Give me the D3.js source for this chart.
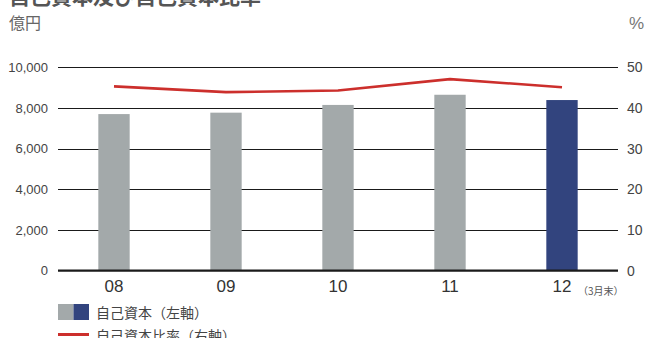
<!DOCTYPE html>
<html>
<head>
<meta charset="utf-8">
<script src="https://cdn.jsdelivr.net/npm/d3@7"></script>
<style>
  html, body { margin: 0; padding: 0; background: #fff; }
  svg { display: block; font-family: "Liberation Sans", Arial, "Noto Sans CJK JP", sans-serif; }
</style>
</head>
<body>
<svg id="chart" width="646" height="338"></svg>
<script>
// Fiscal years (end of March)
const years = ["08", "09", "10", "11", "12"];
// Shareholders' equity, 100 million yen (left axis)
const equity = [7700, 7770, 8150, 8650, 8390];
// Equity ratio, % (right axis)
const equityRatio = [45.3, 43.9, 44.3, 47.1, 45.1];
const leftTicks = [0, 2000, 4000, 6000, 8000, 10000];
const rightTicks = [0, 10, 20, 30, 40, 50];

const svg = d3.select("#chart");
const margin = { left: 58, right: 28, top: 67, bottom: 67 };
const W = 646, H = 338;
const x0 = margin.left, x1 = W - margin.right;
const yTop = 67.3, yBase = 270.7;

const x = d3.scaleBand().domain(years).range([x0, x1]).paddingInner(0.72).paddingOuter(0.36);
const yL = d3.scaleLinear().domain([0, 10000]).range([yBase, yTop]);
const yR = d3.scaleLinear().domain([0, 50]).range([yBase, yTop]);

const grey = "#a3a9aa", navy = "#32447e", red = "#cc2f2c";

// Title (partly clipped at the top) and unit labels
svg.append("text").attr("x", 9).attr("y", 4)
  .attr("font-family", "Noto Sans CJK JP").attr("font-weight", 700)
  .attr("font-size", 21).attr("fill", "#555")
  .text("自己資本及び自己資本比率");
svg.append("text").attr("x", 9).attr("y", 29)
  .attr("font-family", "Noto Sans CJK JP").attr("font-size", 16).attr("fill", "#666")
  .text("億円");
svg.append("text").attr("x", 629).attr("y", 29)
  .attr("font-size", 17).attr("fill", "#777")
  .text("%");

// Gridlines
const grid = svg.append("g");
grid.selectAll("line").data(leftTicks.filter(d => d > 0)).join("line")
  .attr("x1", x0).attr("x2", x1)
  .attr("y1", d => Math.round(yL(d)) + 0.5).attr("y2", d => Math.round(yL(d)) + 0.5)
  .attr("stroke", "#1a1a1a").attr("stroke-width", 1);

// Left axis labels
const leftAxis = d3.axisLeft(yL).tickValues(leftTicks).tickSize(0).tickPadding(10)
  .tickFormat(d3.format(","));
const gl = svg.append("g").attr("transform", `translate(${x0},0)`).call(leftAxis);
gl.select(".domain").remove();
gl.selectAll("text").attr("font-size", 13).attr("fill", "#444")
  .attr("font-family", "Liberation Sans, Arial, sans-serif");

// Right axis labels
const rightAxis = d3.axisRight(yR).tickValues(rightTicks).tickSize(0).tickPadding(9);
const gr = svg.append("g").attr("transform", `translate(${x1},0)`).call(rightAxis);
gr.select(".domain").remove();
gr.selectAll("text").attr("font-size", 14).attr("fill", "#444")
  .attr("font-family", "Liberation Sans, Arial, sans-serif");

// Bars: past years grey, latest year navy
svg.append("g").selectAll("rect").data(years).join("rect")
  .attr("x", d => x(d)).attr("width", x.bandwidth())
  .attr("y", (d, i) => yL(equity[i]))
  .attr("height", (d, i) => yBase - yL(equity[i]))
  .attr("fill", (d, i) => i === years.length - 1 ? navy : grey);

// Baseline
svg.append("line").attr("x1", x0).attr("x2", x1)
  .attr("y1", yBase).attr("y2", yBase)
  .attr("stroke", "#1a1a1a").attr("stroke-width", 2.2);

// Equity ratio line
const line = d3.line()
  .x((d, i) => x(years[i]) + x.bandwidth() / 2)
  .y(d => yR(d));
svg.append("path").datum(equityRatio)
  .attr("d", line).attr("fill", "none")
  .attr("stroke", red).attr("stroke-width", 2.6).attr("stroke-linejoin", "round");

// Category labels
const xAxis = d3.axisBottom(x).tickSize(0).tickPadding(9);
const gx = svg.append("g").attr("transform", `translate(0,${yBase})`).call(xAxis);
gx.select(".domain").remove();
gx.selectAll("text").attr("font-size", 17).attr("fill", "#333")
  .attr("font-family", "Liberation Sans, Arial, sans-serif");
svg.append("text")
  .attr("x", x(years[4]) + x.bandwidth() / 2 + 16).attr("y", 295)
  .attr("font-family", "Noto Sans CJK JP").attr("font-size", 10).attr("fill", "#555")
  .text("（3月末）");

// Legend
const lg = svg.append("g");
lg.append("rect").attr("x", 58).attr("y", 304).attr("width", 15.5).attr("height", 16).attr("fill", grey);
lg.append("rect").attr("x", 73.5).attr("y", 304).attr("width", 15.5).attr("height", 16).attr("fill", navy);
lg.append("text").attr("x", 96).attr("y", 318)
  .attr("font-family", "Noto Sans CJK JP").attr("font-size", 14).attr("fill", "#444")
  .text("自己資本（左軸）");
lg.append("line").attr("x1", 58).attr("x2", 89).attr("y1", 334.5).attr("y2", 334.5)
  .attr("stroke", red).attr("stroke-width", 3);
lg.append("text").attr("x", 96).attr("y", 341)
  .attr("font-family", "Noto Sans CJK JP").attr("font-size", 14).attr("fill", "#444")
  .text("自己資本比率（右軸）");
</script>
</body>
</html>
